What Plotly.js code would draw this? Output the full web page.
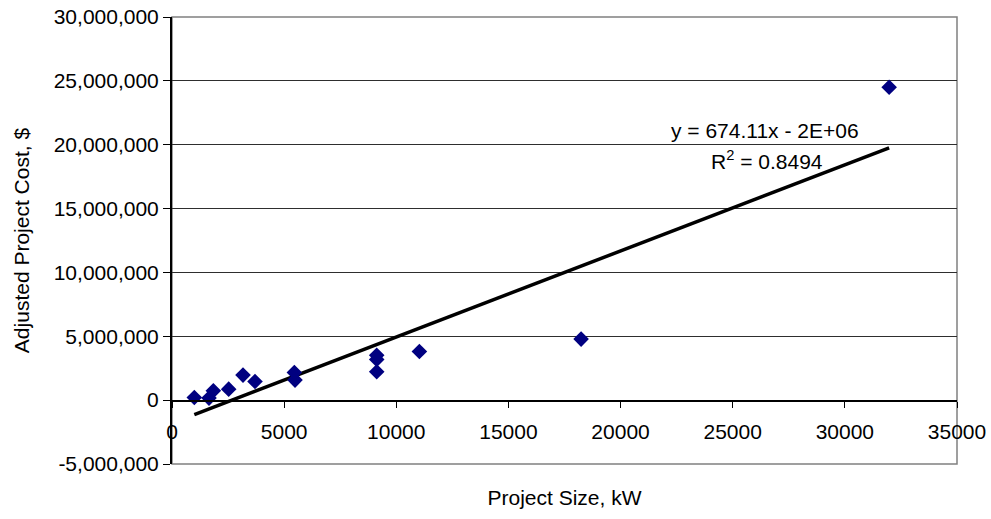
<!DOCTYPE html>
<html>
<head>
<meta charset="utf-8">
<script src="https://cdn.plot.ly/plotly-3.0.1.min.js"></script>
<style>html,body{margin:0;padding:0;background:#fff;}#chart{width:991px;height:519px;}</style>
</head>
<body>
<div id="chart"></div>
<script>
// Data
var projectSizeKW = [995, 1650, 1843, 2527, 3166, 3700, 5455, 5485, 9127, 9127, 9127, 11030, 18240, 31975];
var adjustedCostUSD = [210000, 160000, 730000, 860000, 1960000, 1460000, 2170000, 1570000, 3520000, 3190000, 2220000, 3810000, 4780000, 24500000];
var trendSlope = 674.11;
var trendIntercept = -1800000;
var trendEquation = "y = 674.11x - 2E+06";
var trendR2 = "R<sup>2</sup> = 0.8494";
var yTickVals = [-5000000, 0, 5000000, 10000000, 15000000, 20000000, 25000000, 30000000];
var yTickText = ["-5,000,000", "0", "5,000,000", "10,000,000", "15,000,000", "20,000,000", "25,000,000", "30,000,000"];
var xTickVals = [0, 5000, 10000, 15000, 20000, 25000, 30000, 35000];
var xTickText = ["0", "5000", "10000", "15000", "20000", "25000", "30000", "35000"];

var xMin = Math.min.apply(null, projectSizeKW);
var xMax = Math.max.apply(null, projectSizeKW);
var trendX = [xMin, xMax];
var trendY = trendX.map(function (x) { return trendSlope * x + trendIntercept; });

var FONT = "Liberation Sans, Arial, sans-serif";
var yMin = -5000000, yMax = 30000000;
var xRange = [0, 35000];

var traces = [
  {
    x: [], y: [], type: "scatter", mode: "markers",
    xaxis: "x2", yaxis: "y2", showlegend: false, hoverinfo: "skip"
  },
  {
    x: trendX, y: trendY, type: "scatter", mode: "lines",
    line: { color: "#000000", width: 3.5 },
    xaxis: "x", yaxis: "y", showlegend: false
  },
  {
    x: projectSizeKW, y: adjustedCostUSD, type: "scatter", mode: "markers",
    marker: { symbol: "diamond", size: 12, color: "#000080" },
    xaxis: "x", yaxis: "y", showlegend: false, hoverinfo: "x+y"
  }
];

var zeroFrac = (0 - yMin) / (yMax - yMin);

var layout = {
  width: 991, height: 519,
  margin: { l: 172, r: 34, t: 17, b: 55 },
  paper_bgcolor: "#ffffff", plot_bgcolor: "rgba(0,0,0,0)",
  font: { family: FONT, size: 21, color: "#000000" },
  showlegend: false,
  xaxis: {
    range: xRange,
    anchor: "y",
    showgrid: false, zeroline: false, showline: false,
    showticklabels: false, ticks: "",
    title: { text: "Project Size, kW", font: { family: FONT, size: 21, color: "#000000" }, standoff: 26 }
  },
  xaxis2: {
    range: xRange,
    anchor: "y2",
    tickvals: xTickVals, ticktext: xTickText,
    showgrid: false, zeroline: false,
    showline: true, linecolor: "#000000", linewidth: 1.5,
    ticks: "outside", ticklen: 6, tickwidth: 1, tickcolor: "#000000",
    tickfont: { family: FONT, size: 21, color: "#000000" },
    ticklabelstandoff: 6
  },
  yaxis: {
    range: [yMin, yMax],
    anchor: "x",
    tickvals: yTickVals, ticktext: yTickText,
    showgrid: true, gridcolor: "#2e2e2e", gridwidth: 1,
    zeroline: false,
    showline: true, linecolor: "#000000", linewidth: 2,
    ticks: "outside", ticklen: 7, tickwidth: 1, tickcolor: "#000000",
    tickfont: { family: FONT, size: 21, color: "#000000" },
    title: { text: "Adjusted Project Cost, $", font: { family: FONT, size: 21, color: "#000000" }, standoff: 18 }
  },
  yaxis2: {
    domain: [zeroFrac, 1],
    range: [0, 1],
    anchor: "x2",
    visible: false
  },
  shapes: [
    { type: "rect", xref: "paper", yref: "paper", x0: 0, x1: 1, y0: 0, y1: 1,
      line: { color: "#808080", width: 1.5 }, fillcolor: "rgba(0,0,0,0)", layer: "below" }
  ],
  annotations: [
    { x: 26440, y: 21140000, xref: "x", yref: "y", text: trendEquation, showarrow: false,
      font: { family: FONT, size: 21, color: "#000000" }, xanchor: "center", yanchor: "middle" },
    { x: 26530, y: 18800000, xref: "x", yref: "y", text: trendR2, showarrow: false,
      font: { family: FONT, size: 21, color: "#000000" }, xanchor: "center", yanchor: "middle" }
  ]
};

Plotly.newPlot("chart", traces, layout, { staticPlot: true, displayModeBar: false });
</script>
</body>
</html>
